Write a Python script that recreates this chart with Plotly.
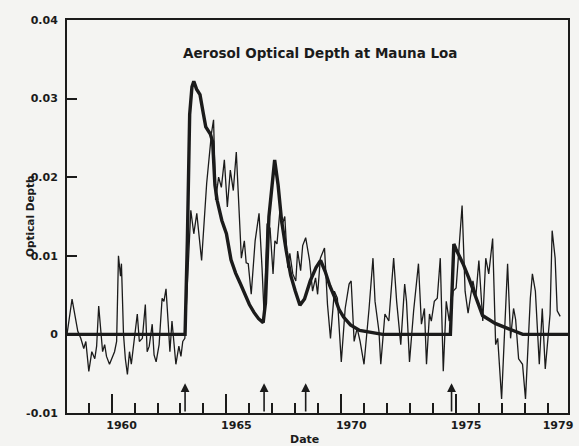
import plotly.graph_objects as go

# Monthly aerosol optical depth anomaly at Mauna Loa (thin line)
obs_year = [
    1958.06, 1958.28, 1958.53, 1958.66, 1958.79, 1958.88, 1959.01, 1959.14, 1959.27, 1959.35,
    1959.44, 1959.61, 1959.70, 1959.78, 1959.91, 1960.13, 1960.22, 1960.30, 1960.39, 1960.43,
    1960.52, 1960.60, 1960.69, 1960.78, 1960.86, 1960.95, 1961.03, 1961.12, 1961.21, 1961.34,
    1961.47, 1961.55, 1961.64, 1961.77, 1961.85, 1961.94, 1962.07, 1962.20, 1962.28, 1962.37,
    1962.46, 1962.54, 1962.63, 1962.72, 1962.80, 1962.93, 1963.02, 1963.10, 1963.19,
    1963.45, 1963.58, 1963.71, 1963.92, 1964.14, 1964.35, 1964.44, 1964.53, 1964.66, 1964.78,
    1964.91, 1965.04, 1965.17, 1965.30, 1965.43, 1965.56, 1965.65, 1965.78, 1965.86, 1965.95,
    1966.08, 1966.25, 1966.42, 1966.55, 1966.64, 1966.77, 1966.90, 1967.03, 1967.11, 1967.20,
    1967.33, 1967.41, 1967.54, 1967.67, 1967.76, 1967.89, 1968.02, 1968.10, 1968.23, 1968.32,
    1968.45, 1968.62, 1968.75, 1968.88, 1968.97, 1969.09, 1969.27, 1969.40, 1969.53, 1969.70,
    1969.83, 1970.00, 1970.17, 1970.34, 1970.43, 1970.56, 1970.69, 1970.82, 1970.99, 1971.21,
    1971.38, 1971.47, 1971.64, 1971.72, 1971.90, 1972.07, 1972.28, 1972.41, 1972.59, 1972.76,
    1972.84, 1972.97, 1973.15, 1973.36, 1973.49, 1973.62, 1973.71, 1973.84, 1973.92, 1974.05,
    1974.18, 1974.31, 1974.44, 1974.57, 1974.70, 1974.87, 1975.00, 1975.26, 1975.39, 1975.52,
    1975.65, 1975.73, 1975.86, 1975.99, 1976.16, 1976.29, 1976.42, 1976.59, 1976.72, 1976.81,
    1976.98, 1977.24, 1977.37, 1977.50, 1977.59, 1977.72, 1977.89, 1978.02, 1978.23, 1978.32,
    1978.45, 1978.53, 1978.62, 1978.75, 1978.88, 1979.09, 1979.18, 1979.31, 1979.40, 1979.53,
]
obs_depth = [
    0.0000, 0.0045, 0.0004, -0.0005, -0.0018, -0.0009, -0.0047, -0.0022, -0.0031, -0.0015,
    0.0036, -0.0022, -0.0013, -0.0028, -0.0038, -0.0022, -0.0009, 0.0100, 0.0074, 0.0090,
    0.0000, -0.0031, -0.0051, -0.0022, -0.0038, -0.0015, -0.0003, 0.0026, -0.0009, -0.0005,
    0.0038, -0.0022, -0.0015, 0.0013, -0.0026, -0.0035, -0.0013, 0.0046, 0.0042, 0.0058,
    0.0017, -0.0022, 0.0017, -0.0015, -0.0038, -0.0015, -0.0028, -0.0009, -0.0005,
    0.0158, 0.0128, 0.0154, 0.0094, 0.0192, 0.0256, 0.0273, 0.0171, 0.0200, 0.0187,
    0.0222, 0.0162, 0.0209, 0.0183, 0.0232, 0.0158, 0.0097, 0.0119, 0.0091, 0.0090,
    0.0051, 0.0119, 0.0154, 0.0085, 0.0026, 0.0141, 0.0135, 0.0077, 0.0119, 0.0115,
    0.0158, 0.0138, 0.0150, 0.0085, 0.0103, 0.0077, 0.0068, 0.0106, 0.0081, 0.0113,
    0.0123, 0.0094, 0.0055, 0.0072, 0.0051, 0.0097, 0.0110, 0.0038, -0.0005, 0.0055,
    0.0046, -0.0035, 0.0033, 0.0064, 0.0068, -0.0009, 0.0008, -0.0009, -0.0038, 0.0033,
    0.0097, 0.0042, 0.0004, -0.0038, 0.0026, 0.0017, 0.0097, 0.0042, -0.0013, 0.0064,
    0.0042, -0.0035, 0.0030, 0.0090, 0.0013, 0.0033, -0.0038, 0.0026, 0.0017, 0.0042,
    0.0046, 0.0097, -0.0047, 0.0042, 0.0017, 0.0055, 0.0059, 0.0164, 0.0055, 0.0027,
    0.0055, 0.0068, 0.0049, 0.0094, 0.0017, 0.0097, 0.0077, 0.0122, -0.0013, -0.0005,
    -0.0082, 0.0090, -0.0005, 0.0033, 0.0019, -0.0031, -0.0038, -0.0082, 0.0046, 0.0077,
    0.0055, 0.0017, -0.0038, 0.0033, -0.0044, 0.0026, 0.0132, 0.0097, 0.0030, 0.0023,
]

# Modelled volcanic aerosol optical depth (thick line)
model_year = [
    1958.06, 1963.20, 1963.30, 1963.40, 1963.50, 1963.58, 1963.70, 1963.85, 1964.00, 1964.10,
    1964.30, 1964.40, 1964.50, 1964.60, 1964.80, 1965.00, 1965.20, 1965.40, 1965.60, 1965.80,
    1966.00, 1966.20, 1966.40, 1966.60, 1966.70, 1966.85, 1967.00, 1967.10, 1967.25, 1967.40,
    1967.60, 1967.80, 1968.00, 1968.20, 1968.40, 1968.65, 1968.90, 1969.10, 1969.30, 1969.50,
    1969.70, 1969.90, 1970.10, 1970.40, 1970.80, 1971.30, 1971.80, 1974.75, 1974.82, 1974.90,
    1975.00, 1975.30, 1975.55, 1975.85, 1976.15, 1976.70, 1977.30, 1977.90, 1979.87,
]
model_depth = [
    0.0000, 0.0000, 0.0120, 0.0280, 0.0315, 0.0322, 0.0312, 0.0305, 0.0280, 0.0264,
    0.0255, 0.0245, 0.0190, 0.0170, 0.0145, 0.0128, 0.0095, 0.0078, 0.0065, 0.0052,
    0.0038, 0.0028, 0.0020, 0.0015, 0.0040, 0.0150, 0.0200, 0.0222, 0.0190, 0.0145,
    0.0107, 0.0075, 0.0055, 0.0037, 0.0045, 0.0068, 0.0085, 0.0094, 0.0080, 0.0062,
    0.0048, 0.0032, 0.0022, 0.0012, 0.0005, 0.0002, 0.0000, 0.0000, 0.0060, 0.0115,
    0.0108, 0.0090, 0.0072, 0.0047, 0.0024, 0.0014, 0.0007, 0.0000, 0.0000,
]

# Major eruptions marked along the time axis
eruption_years = [1963.2, 1966.64, 1968.45, 1974.8]

x_range = [1958.06, 1979.87]
y_ticks = [-0.01, 0, 0.01, 0.02, 0.03, 0.04]
y_tick_text = ["-0.01", "0", "0.01", "0.02", "0.03", "0.04"]
year_labels = [1960, 1965, 1970, 1975, 1979]

ink = "#1b1b1b"
paper = "#f4f4f2"
family = "DejaVu Sans"
font = dict(family=family, size=11, color=ink, weight="bold")

fig = go.Figure()
fig.add_trace(go.Scatter(
    x=obs_year, y=obs_depth, mode="lines",
    line=dict(color=ink, width=1.3), xaxis="x", yaxis="y",
))
fig.add_trace(go.Scatter(
    x=model_year, y=model_depth, mode="lines",
    line=dict(color=ink, width=3.4), xaxis="x2", yaxis="y",
))

for yr in eruption_years:
    fig.add_annotation(
        x=yr, y=-0.0062, ax=yr, ay=-0.01, xref="x", yref="y", axref="x", ayref="y",
        text="", showarrow=True, arrowhead=2, arrowsize=1.1, arrowwidth=1.6, arrowcolor=ink,
    )

fig.add_annotation(
    text="Aerosol Optical Depth at Mauna Loa", xref="paper", yref="paper",
    x=0.504, y=0.916, xanchor="center", yanchor="middle", showarrow=False,
    font=dict(family=family, size=13.5, color=ink, weight="bold"),
)
fig.add_annotation(
    text="Optical Depth", xref="paper", yref="paper", x=-0.075, y=0.5,
    xanchor="center", yanchor="middle", textangle=-90, showarrow=False,
    font=dict(family=family, size=10.5, color=ink, weight="bold"),
)
fig.add_annotation(
    text="Date", xref="paper", yref="paper", x=0.475, y=-0.068,
    xanchor="center", yanchor="middle", showarrow=False, font=font,
)

fig.update_layout(
    width=579, height=446,
    margin=dict(l=67, r=6, t=20, b=33),
    paper_bgcolor=paper, plot_bgcolor=paper,
    showlegend=False,
    font=font,
    xaxis=dict(
        range=x_range, showgrid=False, zeroline=False,
        showline=True, linecolor=ink, linewidth=2, mirror=True,
        ticks="inside", tickvals=[1960, 1965, 1970, 1975], ticklen=19, tickwidth=2, tickcolor=ink,
        showticklabels=False,
        minor=dict(ticks="inside", dtick=1, tick0=1958, ticklen=10, tickwidth=2, tickcolor=ink),
    ),
    xaxis2=dict(
        range=x_range, overlaying="x", side="bottom", anchor="y", matches="x",
        showgrid=False, zeroline=False, showline=False,
        ticks="", tickvals=year_labels, ticktext=[str(v) for v in year_labels],
        ticklabelshift=10, ticklabelstandoff=4, tickfont=font,
    ),
    yaxis=dict(
        range=[-0.01, 0.04], showgrid=False, zeroline=False,
        showline=True, linecolor=ink, linewidth=2, mirror=True,
        ticks="inside", tickvals=y_ticks, ticktext=y_tick_text, ticklen=10, tickwidth=2,
        tickcolor=ink, tickfont=font, ticklabelstandoff=5,
    ),
)

fig.write_html("out.html")
